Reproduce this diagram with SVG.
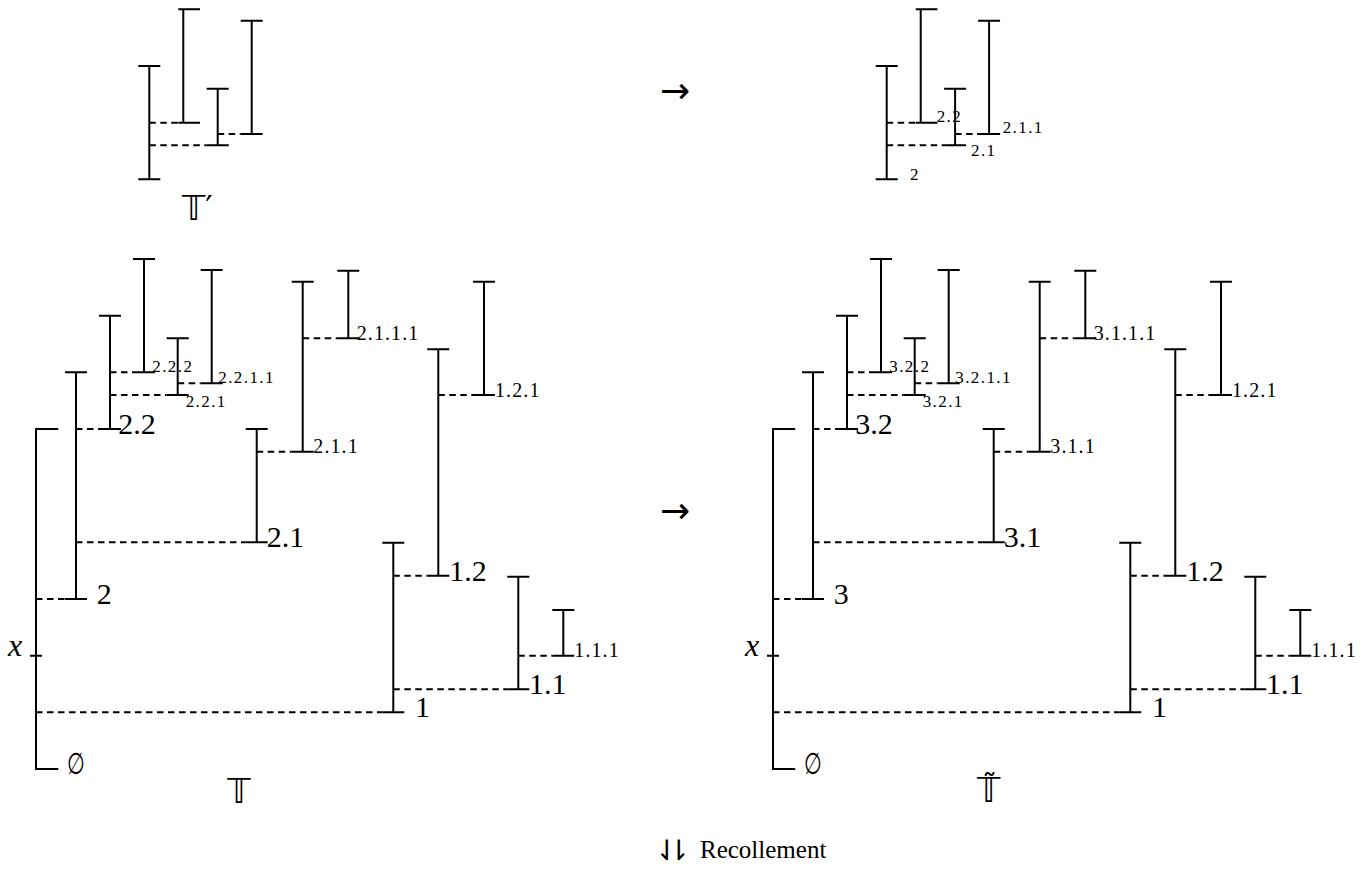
<svg xmlns="http://www.w3.org/2000/svg" width="1372" height="871" viewBox="0 0 1372 871">
<style>
text{font-family:"Liberation Serif","Times New Roman",Tinos,"DejaVu Serif","Noto Serif",FreeSerif,serif;fill:#000}
.bar{stroke:#000;stroke-width:2;fill:none}
.dash{stroke:#000;stroke-width:2;stroke-dasharray:6.5 4.5;fill:none}
.big{font-size:30px}
.small{font-size:20px;letter-spacing:1.1px}
.tiny{font-size:17px;letter-spacing:1.4px}
text.bb{font-family:"DejaVu Sans",sans-serif;font-size:33px}
.var{font-size:32px;font-style:italic}
text.sym{font-family:"DejaVu Sans",sans-serif;font-size:36px}
text.empty{font-family:"DejaVu Sans",sans-serif;font-size:30px}
</style>
<rect width="1372" height="871" fill="#fff"/>

<!-- Top-left tree T' -->
<g id="treeTprime">
  <g id="tp-A"><path class="bar" d="M138.3 66H160.3M149.3 66V179.3M138.3 179.3H160.3"/></g>
  <g id="tp-B"><path class="bar" d="M178.3 9.3H200M183.3 9.3V122.7M178.3 122.7H200"/></g>
  <g id="tp-C"><path class="bar" d="M206.7 88.7H228.7M217.7 88.7V145.3M206.7 145.3H228.7"/></g>
  <g id="tp-D"><path class="bar" d="M240.7 20.7H262.7M251.7 20.7V134M240.7 134H262.7"/></g>
  <g id="tp-connectors">
    <path class="dash" d="M149.3 122.7H178.3M149.3 145.3H206.7M217.7 134H240.7"/>
  </g>
  <text id="tp-label" class="bb" x="182" y="220">𝕋′</text>
</g>

<!-- Top-right tree (relabelled) -->
<g id="treeTprimeLabelled" transform="translate(737.4,0)">
  <g id="tq-2"><path class="bar" d="M138.3 66H160.3M149.3 66V179.3M138.3 179.3H160.3"/><text class="tiny" x="172.6" y="180">2</text></g>
  <g id="tq-22"><path class="bar" d="M178.3 9.3H200M183.3 9.3V122.7M178.3 122.7H200"/><text class="tiny" x="199.3" y="121.7">2.2</text></g>
  <g id="tq-21"><path class="bar" d="M206.7 88.7H228.7M217.7 88.7V145.3M206.7 145.3H228.7"/><text class="tiny" x="233.6" y="156">2.1</text></g>
  <g id="tq-211"><path class="bar" d="M240.7 20.7H262.7M251.7 20.7V134M240.7 134H262.7"/><text class="tiny" x="265.3" y="133.3">2.1.1</text></g>
  <g id="tq-connectors">
    <path class="dash" d="M149.3 122.7H178.3M149.3 145.3H206.7M217.7 134H240.7"/>
  </g>
</g>

<!-- Arrows -->
<text id="arrow-top" class="sym" x="675" y="103" text-anchor="middle">→</text>
<text id="arrow-mid" class="sym" x="675" y="523" text-anchor="middle">→</text>

<!-- Bottom-left tree T -->
<g id="treeT">
  <g id="t-root"><path class="bar" d="M58.3 429H36V769H58.3M30 655.7H42"/><text class="var" x="8" y="656">x</text><text class="empty" transform="translate(75.8 774) scale(0.68 1)" text-anchor="middle">∅</text></g>
  <g id="t-2"><path class="bar" d="M65 372.3H87M76 372.3V599M65 599H87"/><text class="big" x="96.7" y="604">2</text></g>
  <g id="t-22"><path class="bar" d="M99 315.7H121M110 315.7V429M99 429H121"/><text class="big" x="118.3" y="434">2.2</text></g>
  <g id="t-222"><path class="bar" d="M133 259H155M144 259V372.3M133 372.3H155"/><text class="tiny" x="152.3" y="372.3">2.2.2</text></g>
  <g id="t-221"><path class="bar" d="M166.7 338.3H188.7M177.7 338.3V395M166.7 395H188.7"/><text class="tiny" x="185.7" y="406.7">2.2.1</text></g>
  <g id="t-2211"><path class="bar" d="M200.7 270H222.7M211.7 270V383.3M200.7 383.3H222.7"/><text class="tiny" x="218.3" y="383.3">2.2.1.1</text></g>
  <g id="t-21"><path class="bar" d="M245.7 429H267.7M256.7 429V542.3M245.7 542.3H267.7"/><text class="big" x="266.7" y="547.3">2.1</text></g>
  <g id="t-211"><path class="bar" d="M291.7 281.7H313.7M302.7 281.7V451.7M291.7 451.7H313.7"/><text class="small" x="313.3" y="453.3">2.1.1</text></g>
  <g id="t-2111"><path class="bar" d="M337.3 270.7H359.3M348.3 270.7V338.3M337.3 338.3H359.3"/><text class="small" x="356.7" y="340">2.1.1.1</text></g>
  <g id="t-1"><path class="bar" d="M382.3 542.7H404.3M393.3 542.7V712.3M382.3 712.3H404.3"/><text class="big" x="415" y="716.7">1</text></g>
  <g id="t-12"><path class="bar" d="M427.3 349.3H449.3M438.3 349.3V575.7M427.3 575.7H449.3"/><text class="big" x="449.3" y="580.7">1.2</text></g>
  <g id="t-121"><path class="bar" d="M473 281.7H495M484 281.7V395M473 395H495"/><text class="small" x="495" y="396.5">1.2.1</text></g>
  <g id="t-11"><path class="bar" d="M507.3 576.7H529.3M518.3 576.7V689.3M507.3 689.3H529.3"/><text class="big" x="529" y="694">1.1</text></g>
  <g id="t-111"><path class="bar" d="M552.3 610H574.3M563.3 610V655.7M552.3 655.7H574.3"/><text class="small" x="574.3" y="656.7">1.1.1</text></g>
  <g id="t-connectors">
    <path class="dash" d="M36 599H65M76 429H99M110 372.3H133M110 395H166.7M177.7 383.3H200.7M76 542.3H245.7M256.7 451.7H291.7M302.7 338.3H337.3M36 712.3H382.3M393.3 575.7H427.3M438.3 395H473M393.3 689.3H507.3M518.3 655.7H552.3"/>
  </g>
  <text id="t-label" class="bb" x="239" y="803" text-anchor="middle">𝕋</text>
</g>

<!-- Bottom-right tree T~ -->
<g id="treeTtilde" transform="translate(737,0)">
  <g id="s-root"><path class="bar" d="M58.3 429H36V769H58.3M30 655.7H42"/><text class="var" x="8" y="656">x</text><text class="empty" transform="translate(75.8 774) scale(0.68 1)" text-anchor="middle">∅</text></g>
  <g id="s-3"><path class="bar" d="M65 372.3H87M76 372.3V599M65 599H87"/><text class="big" x="96.7" y="604">3</text></g>
  <g id="s-32"><path class="bar" d="M99 315.7H121M110 315.7V429M99 429H121"/><text class="big" x="118.3" y="434">3.2</text></g>
  <g id="s-322"><path class="bar" d="M133 259H155M144 259V372.3M133 372.3H155"/><text class="tiny" x="152.3" y="372.3">3.2.2</text></g>
  <g id="s-321"><path class="bar" d="M166.7 338.3H188.7M177.7 338.3V395M166.7 395H188.7"/><text class="tiny" x="185.7" y="406.7">3.2.1</text></g>
  <g id="s-3211"><path class="bar" d="M200.7 270H222.7M211.7 270V383.3M200.7 383.3H222.7"/><text class="tiny" x="218.3" y="383.3">3.2.1.1</text></g>
  <g id="s-31"><path class="bar" d="M245.7 429H267.7M256.7 429V542.3M245.7 542.3H267.7"/><text class="big" x="266.7" y="547.3">3.1</text></g>
  <g id="s-311"><path class="bar" d="M291.7 281.7H313.7M302.7 281.7V451.7M291.7 451.7H313.7"/><text class="small" x="313.3" y="453.3">3.1.1</text></g>
  <g id="s-3111"><path class="bar" d="M337.3 270.7H359.3M348.3 270.7V338.3M337.3 338.3H359.3"/><text class="small" x="356.7" y="340">3.1.1.1</text></g>
  <g id="s-1"><path class="bar" d="M382.3 542.7H404.3M393.3 542.7V712.3M382.3 712.3H404.3"/><text class="big" x="415" y="716.7">1</text></g>
  <g id="s-12"><path class="bar" d="M427.3 349.3H449.3M438.3 349.3V575.7M427.3 575.7H449.3"/><text class="big" x="449.3" y="580.7">1.2</text></g>
  <g id="s-121"><path class="bar" d="M473 281.7H495M484 281.7V395M473 395H495"/><text class="small" x="495" y="396.5">1.2.1</text></g>
  <g id="s-11"><path class="bar" d="M507.3 576.7H529.3M518.3 576.7V689.3M507.3 689.3H529.3"/><text class="big" x="529" y="694">1.1</text></g>
  <g id="s-111"><path class="bar" d="M552.3 610H574.3M563.3 610V655.7M552.3 655.7H574.3"/><text class="small" x="574.3" y="656.7">1.1.1</text></g>
  <g id="s-connectors">
    <path class="dash" d="M36 599H65M76 429H99M110 372.3H133M110 395H166.7M177.7 383.3H200.7M76 542.3H245.7M256.7 451.7H291.7M302.7 338.3H337.3M36 712.3H382.3M393.3 575.7H427.3M438.3 395H473M393.3 689.3H507.3M518.3 655.7H552.3"/>
  </g>
  <text id="s-label" class="bb" x="240" y="802">𝕋<tspan dx="-18.5" dy="-7" style="font-size:30px">˜</tspan></text>
</g>

<!-- Bottom caption -->
<g id="caption">
  <text class="sym" x="655" y="860" style="font-size:28px;letter-spacing:-11.5px">⇃⇂</text>
  <text x="700" y="858" style="font-size:25px">Recollement</text>
</g>
</svg>
